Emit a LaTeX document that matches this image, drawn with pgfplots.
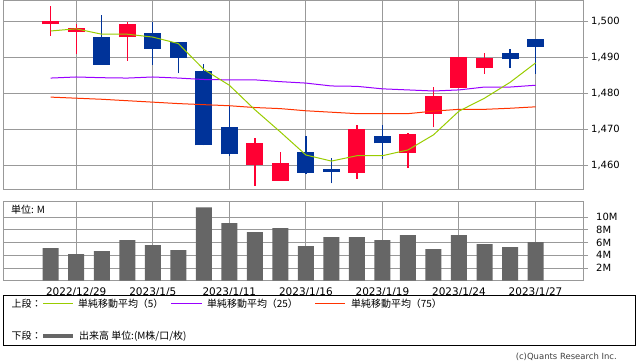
\documentclass[border=0pt]{standalone}
\usepackage{pgfplots}
\pgfplotsset{compat=1.18}
\usepackage{pgfplotstable}
\usepackage{fontspec}
\setmainfont{DejaVu Sans}
\newfontfamily\jp{Noto Sans CJK JP}
\definecolor{candleup}{HTML}{FF0033}
\definecolor{candledn}{HTML}{003399}
\definecolor{maA}{HTML}{99CC00}
\definecolor{maB}{HTML}{9900FF}
\definecolor{maC}{HTML}{FF3300}
\definecolor{volc}{HTML}{666666}
\definecolor{gridc}{HTML}{999999}

% up (red) candles: index open high low close
\pgfplotstableread{
i o h l c
0 1499.1 1504.3 1496.0 1500.0
1 1497.1 1499.3 1490.9 1498.1
3 1495.5 1499.8 1489.0 1499.2
8 1459.9 1467.6 1454.3 1466.2
9 1455.6 1463.7 1455.6 1460.6
12 1457.9 1471.2 1456.2 1470.1
14 1463.4 1469.0 1459.3 1468.7
15 1474.3 1481.8 1470.5 1479.3
16 1481.5 1490.1 1481.5 1490.1
17 1487.0 1491.2 1485.4 1489.8
}\upcandles

% down (blue) candles
\pgfplotstableread{
i o h l c
2 1495.6 1501.8 1487.9 1487.9
4 1496.8 1499.8 1487.9 1492.3
5 1494.3 1494.3 1485.5 1489.9
6 1486.2 1488.1 1465.5 1465.5
7 1470.6 1476.5 1462.4 1463.0
10 1463.7 1468.1 1457.4 1457.9
11 1459.0 1462.0 1454.9 1458.0
13 1468.1 1471.2 1461.8 1466.0
18 1491.2 1492.3 1487.0 1489.5
19 1495.1 1495.1 1485.4 1492.9
}\dncandles

% moving averages and volume (M)
\pgfplotstableread{
i ma5 ma25 ma75 vol
0 1497.3 1484.2 1478.9 5.12
1 1497.9 1484.5 1478.6 4.17
2 1496.4 1484.3 1478.3 4.65
3 1496.4 1484.2 1477.9 6.38
4 1495.6 1484.5 1477.5 5.59
5 1493.8 1484.2 1477.1 4.80
6 1486.6 1483.8 1476.8 11.57
7 1482.2 1483.7 1476.5 9.06
8 1475.4 1483.7 1476.0 7.64
9 1469.2 1483.2 1475.7 8.27
10 1462.8 1482.8 1475.1 5.43
11 1461.1 1482.0 1474.7 6.85
12 1462.6 1481.9 1474.3 6.85
13 1462.6 1481.2 1474.3 6.38
14 1464.2 1480.9 1474.3 7.17
15 1468.4 1480.6 1475.0 4.96
16 1475.0 1480.9 1475.5 7.17
17 1478.6 1481.7 1475.5 5.75
18 1483.0 1481.7 1475.8 5.28
19 1488.4 1482.2 1476.2 6.06
}\series

\begin{document}
\begin{tikzpicture}
\path[use as bounding box] (0,0) rectangle (638bp,362bp);

% ---------- price panel ----------
\begin{axis}[
  at={(3bp,172bp)}, anchor=south west,
  scale only axis, width=580bp, height=189bp,
  xmin=-1.87, xmax=20.86, ymin=1453.06, ymax=1505.64,
  axis line style={gridc, line width=1bp},
  grid=major, major grid style={gridc, line width=1bp},
  xtick={1,4,7,10,13,16,19}, xticklabels={},
  x tick style={draw=none},
  ytick={1460,1470,1480,1490,1500},
  yticklabels={{1,460},{1,470},{1,480},{1,490},{1,500}},
  ytick pos=right, yticklabel pos=right,
  tick align=outside, major tick length=5bp,
  y tick style={gridc, line width=1bp},
  yticklabel style={font=\fontsize{10}{12}\selectfont, anchor=west, inner sep=0pt, xshift=3bp, text=black},
  candle/.style={draw=none, mark=none, forget plot,
    /pgfplots/error bars/y dir=plus,
    /pgfplots/error bars/y explicit,
    /pgfplots/error bars/error mark=none},
]
% wicks
\addplot[candle, error bars/error bar style={draw=candleup, line width=1.3bp}]
  table[x=i, y=l, y error expr=\thisrow{h}-\thisrow{l}] {\upcandles};
\addplot[candle, error bars/error bar style={draw=candledn, line width=1.3bp}]
  table[x=i, y=l, y error expr=\thisrow{h}-\thisrow{l}] {\dncandles};
% bodies
\addplot[candle, error bars/error bar style={draw=candleup, line width=17bp, line cap=butt}]
  table[x=i, y=o, y error expr=\thisrow{c}-\thisrow{o}] {\upcandles};
\addplot[candle, error bars/error bar style={draw=candledn, line width=17bp, line cap=butt}]
  table[x=i, y=c, y error expr=\thisrow{o}-\thisrow{c}] {\dncandles};
% moving averages
\addplot[maC, line width=1bp, mark=none] table[x=i, y=ma75] {\series};
\addplot[maB, line width=1bp, mark=none] table[x=i, y=ma25] {\series};
\addplot[maA, line width=1bp, mark=none] table[x=i, y=ma5] {\series};
\end{axis}

% ---------- volume panel ----------
\begin{axis}[
  at={(3bp,81.3bp)}, anchor=south west,
  scale only axis, width=580bp, height=79bp,
  xmin=-1.87, xmax=20.86, ymin=0, ymax=12.45,
  axis line style={gridc, line width=1bp},
  grid=major, major grid style={gridc, line width=1bp},
  xtick={1,4,7,10,13,16,19},
  xticklabels={2022/12/29,2023/1/5,2023/1/11,2023/1/16,2023/1/19,2023/1/24,2023/1/27},
  x tick style={draw=none},
  xticklabel style={font=\fontsize{10.5}{12}\selectfont, anchor=north, inner sep=0pt, yshift=-1.5bp},
  ytick={2,4,6,8,10},
  yticklabels={2M,4M,6M,8M,10M},
  ytick pos=right, yticklabel pos=right,
  tick align=outside, major tick length=5bp,
  y tick style={gridc, line width=1bp},
  yticklabel style={font=\fontsize{10}{12}\selectfont, anchor=west, inner sep=0pt, xshift=8bp, text=black},
]
\addplot[ybar, bar width=16bp, bar shift=0pt, fill=volc, draw=none] table[x=i, y=vol] {\series};
\end{axis}

% ---------- labels and legend ----------
\begin{scope}[x=1bp, y=1bp]
\node[anchor=west, inner sep=0pt, font=\jp\fontsize{10}{12}\selectfont] at (11,152) {単位: M};
\draw[black, line width=1bp] (3.5,16) rectangle (635.5,66);
\node[anchor=west, inner sep=0pt, font=\jp\fontsize{10}{12}\selectfont] at (11.5,58.5) {上段：};
\draw[maA, line width=1bp] (43,58.5) -- (73,58.5);
\node[anchor=west, inner sep=0pt, font=\jp\fontsize{10}{12}\selectfont] at (78,58.5) {単純移動平均（5）};
\draw[maB, line width=1bp] (171,58.5) -- (202,58.5);
\node[anchor=west, inner sep=0pt, font=\jp\fontsize{10}{12}\selectfont] at (207,58.5) {単純移動平均（25）};
\draw[maC, line width=1bp] (315,58.5) -- (345,58.5);
\node[anchor=west, inner sep=0pt, font=\jp\fontsize{10}{12}\selectfont] at (351,58.5) {単純移動平均（75）};
\node[anchor=west, inner sep=0pt, font=\jp\fontsize{10}{12}\selectfont] at (11.5,26) {下段：};
\draw[volc, line width=3.5bp] (43,26) -- (73,26);
\node[anchor=west, inner sep=0pt, font=\jp\fontsize{10}{12}\selectfont] at (79,26) {出来高 単位:(M株/口/枚)};
\node[anchor=east, inner sep=0pt, font=\fontsize{8.5}{10}\selectfont, text=black!75] at (617,5) {(c)Quants Research Inc.};
\end{scope}
\end{tikzpicture}
\end{document}
